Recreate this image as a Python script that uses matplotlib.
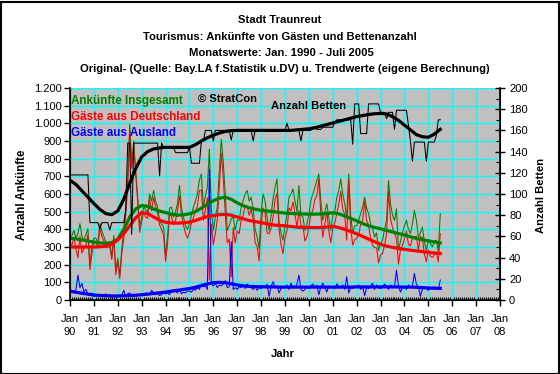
import numpy as np
import matplotlib
matplotlib.use("Agg")
import matplotlib.pyplot as plt
from matplotlib.ticker import MultipleLocator, FixedLocator, FuncFormatter
from matplotlib.patches import Rectangle

plt.rcParams["font.family"] = ["Liberation Sans", "DejaVu Sans"]

GREEN = "#008000"; RED = "#FF0000"; BLUE = "#0000FF"; CYAN = "#00FFFF"; GREY = "#C0C0C0"

# ---------------------------------------------------------------- data
# monthly values, Jan 1990 .. Jul 2005
gesamt = [
    360, 365, 394, 347, 380, 432, 360, 338, 370, 404, 197, 300,   # 1990
    350, 350, 325, 432, 390, 360, 330, 320, 330, 244, 365, 169,   # 1991
    235, 141, 290, 400, 507, 676, 995, 770, 901, 732, 582, 413,   # 1992
    470, 526, 510, 498, 601, 560, 620, 560, 526, 451, 430, 413,   # 1993
    254, 357, 520, 526, 470, 500, 545, 648, 520, 470, 420, 400,   # 1994
    432, 480, 526, 560, 601, 680, 713, 526, 590, 639, 854, 520,   # 1995
    394, 470, 526, 732, 910, 780, 600, 394, 420, 460, 470, 394,   # 1996
    451, 451, 526, 564, 600, 620, 560, 582, 516, 400, 357, 291,   # 1997
    488, 601, 560, 470, 394, 480, 573, 640, 685, 441, 380, 338,   # 1998
    420, 479, 582, 600, 629, 560, 500, 648, 479, 470, 394, 430,   # 1999
    480, 564, 600, 639, 676, 713, 560, 451, 500, 545, 470, 394,   # 2000
    480, 500, 580, 620, 685, 600, 545, 470, 713, 480, 376, 420,   # 2001
    420, 451, 490, 526, 582, 520, 488, 430, 404, 357, 380, 280,   # 2002
    320, 338, 400, 451, 676, 545, 480, 451, 516, 282, 330, 380,   # 2003
    420, 451, 400, 376, 430, 507, 451, 357, 380, 413, 330, 282,   # 2004
    338, 320, 300, 330, 338, 276, 488,                            # 2005
]
deutschland = [
    325, 310, 354, 287, 239, 362, 266, 293, 310, 369, 172, 260,
    330, 325, 295, 412, 360, 335, 295, 300, 300, 229, 345, 144,
    220, 121, 265, 345, 487, 641, 955, 745, 871, 712, 557, 383,
    445, 496, 470, 463, 571, 505, 580, 530, 491, 426, 400, 368,
    219, 317, 490, 471, 425, 450, 505, 588, 485, 425, 380, 350,
    382, 435, 466, 505, 531, 620, 623, 451, 510, 579, 113, 430,
    314, 375, 456, 647, 830, 690, 490, 324, 345, 130, 410, 324,
    391, 376, 456, 479, 535, 530, 480, 512, 456, 325, 302, 221,
    423, 521, 490, 380, 374, 405, 468, 570, 605, 401, 315, 263,
    350, 394, 522, 505, 554, 490, 410, 507, 419, 420, 334, 355,
    415, 484, 510, 569, 591, 683, 485, 356, 430, 500, 390, 324,
    405, 435, 490, 540, 615, 515, 485, 339, 673, 410, 311, 340,
    350, 366, 430, 451, 557, 450, 423, 350, 309, 297, 295, 210,
    255, 263, 310, 371, 616, 460, 410, 376, 347, 202, 285, 310,
    345, 391, 315, 306, 350, 357, 361, 282, 360, 353, 260, 217,
    283, 250, 240, 255, 273, 216, 375,
]
ausland = [
    35, 55, 40, 60, 141, 70, 94, 45, 60, 35, 25, 40,
    20, 25, 30, 20, 30, 25, 35, 20, 30, 15, 20, 25,
    15, 20, 25, 55, 20, 35, 40, 25, 30, 20, 25, 30,
    25, 30, 40, 35, 30, 55, 40, 30, 35, 25, 30, 45,
    35, 40, 30, 55, 45, 50, 40, 60, 35, 45, 40, 50,
    50, 45, 60, 55, 70, 60, 90, 75, 80, 60, 741, 90,
    80, 95, 70, 85, 80, 90, 110, 70, 75, 330, 60, 70,
    60, 75, 70, 85, 65, 90, 80, 70, 60, 75, 55, 70,
    65, 80, 70, 90, 20, 75, 105, 70, 80, 40, 65, 75,
    70, 85, 60, 95, 75, 70, 90, 141, 60, 50, 60, 75,
    65, 80, 90, 70, 85, 30, 75, 95, 70, 45, 80, 70,
    75, 65, 90, 80, 70, 85, 60, 131, 40, 70, 65, 80,
    70, 85, 60, 75, 25, 70, 65, 80, 95, 60, 85, 70,
    65, 75, 90, 80, 60, 85, 70, 75, 169, 80, 45, 70,
    75, 60, 85, 70, 80, 150, 90, 75, 20, 60, 70, 65,
    55, 70, 60, 75, 65, 60, 113,
]
betten = [
    118, 118, 118, 118, 118, 118, 118, 118, 118, 118, 73, 73,
    73, 73, 73, 67, 73, 73, 73, 73, 66, 73, 73, 73,
    73, 73, 73, 73, 85, 148, 148, 62, 148, 148, 148, 148,
    148, 148, 148, 148, 148, 148, 148, 148, 148, 117, 148, 144,
    144, 144, 144, 144, 144, 139, 139, 139, 139, 139, 139, 139,
    144, 129, 129, 129, 129, 129, 150, 150, 160, 160, 160, 160,
    150, 160, 160, 160, 160, 160, 160, 160, 160, 151, 160, 160,
    160, 160, 160, 160, 160, 160, 160, 160, 150, 160, 160, 160,
    160, 160, 160, 160, 160, 160, 160, 160, 160, 160, 160, 160,
    160, 167, 160, 160, 160, 160, 160, 160, 150, 160, 160, 160,
    160, 160, 163, 163, 161, 161, 161, 163, 163, 163, 163, 163,
    163, 168, 170, 170, 170, 170, 170, 170, 170, 170, 147, 185,
    185, 185, 157, 157, 157, 157, 185, 185, 185, 185, 185, 185,
    177, 177, 177, 171, 177, 177, 177, 161, 179, 179, 179, 179,
    179, 179, 165, 150, 131, 149, 149, 149, 149, 149, 149, 131,
    149, 149, 149, 149, 155, 170, 170,
]

# trend values (eigene Berechnung), quarterly 1990.0 .. 2005.5
trend_gesamt = [
    350, 346, 340, 334, 328, 323, 321, 325, 345, 400, 470, 515, 535, 530, 515, 503,
    495, 486, 480, 482, 488, 500, 520, 542, 562, 576, 582, 570, 550, 534, 522, 514,
    508, 504, 500, 496, 492, 490, 488, 487, 486, 486, 487, 490, 494, 488, 475, 462,
    448, 433, 420, 411, 403, 394, 385, 376, 368, 358, 348, 341, 335, 329, 323]
trend_deutschland = [
    300, 300, 300, 300, 300, 301, 305, 315, 340, 375, 420, 465, 495, 490, 470, 452,
    440, 436, 435, 437, 441, 450, 462, 472, 478, 483, 485, 480, 470, 460, 450, 444,
    438, 431, 425, 422, 420, 416, 412, 411, 410, 410, 410, 413, 417, 410, 400, 388,
    375, 360, 345, 330, 315, 305, 298, 292, 287, 282, 278, 274, 270, 266, 263]
trend_ausland = [
    50, 44, 38, 33, 28, 26, 24, 23, 23, 24, 25, 27, 30, 33, 37, 41,
    45, 50, 55, 60, 65, 72, 82, 91, 98, 100, 98, 92, 85, 80, 77, 76,
    75, 74, 74, 73, 73, 73, 73, 73, 73, 73, 73, 73, 73, 73, 73, 73,
    74, 74, 74, 74, 74, 74, 74, 74, 73, 73, 72, 70, 68, 67, 66]
trend_betten = [
    113, 109, 103, 97, 91, 85.5, 81.5, 80.5, 84, 95, 110, 124, 135, 140, 142.5, 143.5,
    144, 144, 144, 144, 144, 146.5, 150, 153, 155.5, 157.5, 159, 159.8, 160, 160, 160, 160,
    160, 160, 160, 160, 160, 160, 160.5, 161, 161.5, 162.5, 164, 165.5, 167, 168.5, 170, 171.5,
    173, 174, 175, 175.7, 176, 175.5, 173, 169.5, 165, 160.5, 156, 154, 153.5, 156.5, 161]

jahre = list(range(1990, 2009))
titel = ["Stadt Traunreut",
         "Tourismus: Ankünfte von Gästen und Bettenanzahl",
         "Monatswerte: Jan. 1990 - Juli 2005",
         "Original- (Quelle: Bay.LA f.Statistik u.DV) u. Trendwerte (eigene Berechnung)"]

t_mon = 1990 + np.arange(len(gesamt)) / 12.0
t_trend = 1990 + 0.25 * np.arange(len(trend_gesamt))

# ---------------------------------------------------------------- figure
W, H = 560, 374
fig = plt.figure(figsize=(W / 100, H / 100), dpi=100, facecolor="white")
fig.patches.append(Rectangle((0.5 / W, 0.5 / H), 1 - 2 / W, 1 - 2 / H, transform=fig.transFigure,
                             fill=False, edgecolor="black", lw=1.5))

L, R, T, B = 70, 500, 88, 300
ax = fig.add_axes([L / W, 1 - B / H, (R - L) / W, (B - T) / H])
ax.set_facecolor(GREY)
ax.set_xlim(1990, 2008); ax.set_ylim(0, 1200)

THIN, THICK = 0.75, 2.3
ax.plot(t_mon, gesamt, color=GREEN, lw=THIN, zorder=3)
ax.plot(t_mon, deutschland, color=RED, lw=THIN, zorder=3)
ax.plot(t_mon, ausland, color=BLUE, lw=THIN, zorder=3)
for tr, c in ((trend_gesamt, GREEN), (trend_deutschland, RED), (trend_ausland, BLUE)):
    ax.plot(t_trend, tr, color=c, lw=THICK, zorder=4, solid_joinstyle="round")

ax.xaxis.set_major_locator(FixedLocator(jahre))
ax.xaxis.set_minor_locator(MultipleLocator(1 / 12))
ax.set_xticklabels([f"Jan\n{j % 100:02d}" for j in jahre], linespacing=1.4)
ax.yaxis.set_major_locator(MultipleLocator(100))
ax.yaxis.set_major_formatter(FuncFormatter(lambda v, p: f"{int(v):,}".replace(",", ".")))
ax.grid(True, which="major", color=CYAN, lw=1.0, zorder=1)
ax.set_axisbelow(True)
ax.tick_params(axis="x", which="major", direction="out", length=4, width=1, labelsize=8, pad=6)
ax.tick_params(axis="x", which="minor", direction="in", length=2, width=0.8)
ax.tick_params(axis="y", which="major", direction="out", length=4, width=1, labelsize=8, pad=2)
ax.spines["top"].set_visible(False)
for s in ("left", "bottom"):
    ax.spines[s].set_linewidth(1.2)

ax2 = ax.twinx()
ax2.set_ylim(0, 200)
ax2.plot(t_mon, betten, color="black", lw=THIN, zorder=3)
ax2.plot(t_trend, trend_betten, color="black", lw=THICK, zorder=4, solid_joinstyle="round")
ax2.yaxis.set_major_locator(MultipleLocator(20))
ax2.yaxis.set_minor_locator(MultipleLocator(10))
ax2.tick_params(axis="y", which="major", direction="inout", length=7, width=1, labelsize=8, pad=3)
ax2.tick_params(axis="y", which="minor", direction="in", length=3, width=0.8)
ax2.spines["top"].set_visible(False)
ax2.spines["right"].set_linewidth(1.2)

# texts
for y, x, s in zip([20, 37, 53, 69], [280, 280, 281, 285], titel):
    fig.text(x / W, 1 - y / H, s, ha="center", va="center", fontsize=8.1, fontweight="bold")
fig.text(22 / W, 1 - 195 / H, "Anzahl Ankünfte", rotation=90, ha="center", va="center",
         fontsize=8.3, fontweight="bold")
fig.text(541 / W, 1 - 195 / H, "Anzahl Betten", rotation=90, ha="center", va="center",
         fontsize=8.1, fontweight="bold")
fig.text(283 / W, 1 - 354 / H, "Jahr", ha="center", va="center", fontsize=8.2, fontweight="bold")

legend_txt = [("Ankünfte Insgesamt", GREEN, 101), ("Gäste aus Deutschland", RED, 117),
              ("Gäste aus Ausland", BLUE, 133)]
for s, c, y in legend_txt:
    fig.text(71 / W, 1 - y / H, s, color=c, ha="left", va="center", fontsize=8.4, fontweight="bold")
fig.text(198 / W, 1 - 99 / H, "© StratCon", ha="left", va="center", fontsize=8.1, fontweight="bold")
fig.text(271 / W, 1 - 106 / H, "Anzahl Betten", ha="left", va="center", fontsize=8.1, fontweight="bold")

fig.savefig("out.png", dpi=100, facecolor="white")
